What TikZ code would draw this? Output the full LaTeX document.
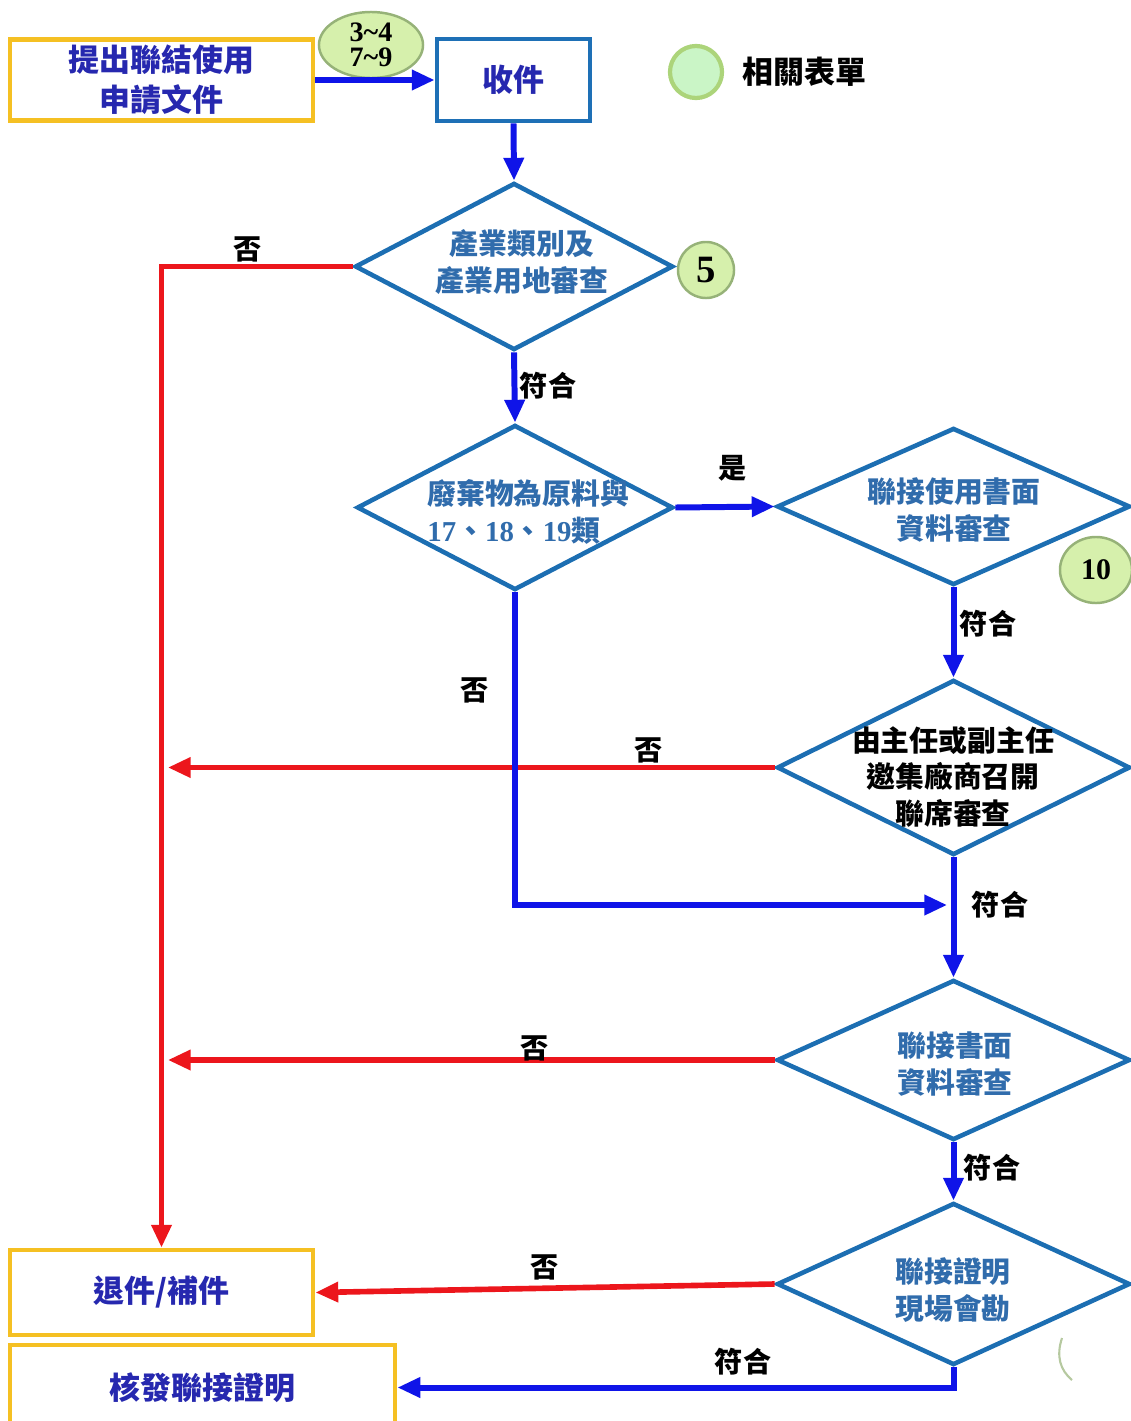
\documentclass[tikz,border=0pt]{standalone}
\usepackage{fontspec}
\setmainfont{Liberation Serif}
\newfontfamily\cjk{Noto Sans CJK TC}
\usetikzlibrary{shapes.geometric,arrows.meta}

\definecolor{boxyellow}{RGB}{245,192,35}
\definecolor{boxblue}{RGB}{30,112,182}
\definecolor{diablue}{RGB}{28,110,178}
\definecolor{diatext}{RGB}{48,108,172}
\definecolor{navytext}{RGB}{38,40,175}
\definecolor{arrowblue}{RGB}{15,20,232}
\definecolor{arrred}{RGB}{236,22,28}
\definecolor{formgreen}{RGB}{214,240,172}
\definecolor{formedge}{RGB}{150,178,120}
\definecolor{legendgreen}{RGB}{202,245,198}
\definecolor{legendedge}{RGB}{172,212,122}

\newcommand{\dg}[1]{{\rmfamily\bfseries #1}}

\begin{document}
\begin{tikzpicture}[x=0.01cm,y=-0.01cm,
	>={Triangle[length=6.5pt,width=5.5pt]},
	every node/.style={font=\cjk\bfseries},
	ybox/.style={draw=boxyellow,line width=1.3pt,fill=white,inner sep=0pt,
		text=navytext,align=center,font=\cjk\bfseries\fontsize{8.8}{11.4}\selectfont},
	dia/.style={diamond,draw=diablue,line width=1.3pt,inner sep=0pt,
		minimum width=3.53cm,minimum height=1.6cm},
	dtxt/.style={text=diatext,align=center,font=\cjk\bfseries\fontsize{8.2}{10.5}\selectfont},
	bl/.style={draw=arrowblue,line width=1.7pt},
	rl/.style={draw=arrred,line width=1.6pt},
	lbl/.style={font=\cjk\bfseries\fontsize{8}{10}\selectfont},
	form/.style={ellipse,draw=formedge,fill=formgreen,line width=0.7pt,inner sep=0pt}]
\useasboundingbox (0,0) rectangle (1131,1421);
\clip (0,0) rectangle (1131,1421);

% boxes
\node[ybox,minimum width=3.03cm,minimum height=0.81cm] (apply) at (161.5,80) {提出聯結使用\\申請文件};
\node[draw=boxblue,line width=1.3pt,inner sep=0pt,minimum width=1.53cm,minimum height=0.82cm,
	text=navytext,font=\cjk\bfseries\fontsize{8.8}{11}\selectfont] (recv) at (513.5,80) {收件};
\node[ybox,minimum width=3.03cm,minimum height=0.85cm] (rbox) at (161.5,1292.5) {退件/補件};
\node[ybox,minimum width=3.85cm,minimum height=0.85cm] (fbox) at (202.5,1387.5) {核發聯接證明};

% decisions
\node[dia,minimum width=3.18cm,minimum height=1.67cm] (d1) at (514,266.5) {};
\node[dia,minimum width=3.16cm,minimum height=1.65cm] (d2) at (515,507.5) {};
\node[dia,minimum height=1.57cm] (d3) at (953.5,506.5) {};
\node[dia,minimum height=1.75cm] (d4) at (953.5,767.5) {};
\node[dia] (d5) at (953.5,1060) {};
\node[dia,minimum height=1.62cm] (d6) at (953.5,1284) {};

\node[dtxt] (d1t) at (522,262) {產業類別及\\產業用地審查};
\node[dtxt,align=left,anchor=west] (d2t) at (415,512) {廢棄物為原料與\\\dg{17}、\dg{18}、\dg{19}類};
\node[dtxt] (d3t) at (954,510) {聯接使用書面\\資料審查};
\node[dtxt,text=black] (d4t) at (953,777) {由主任或副主任\\邀集廠商召開\\聯席審查};
\node[dtxt] (d5t) at (955,1064) {聯接書面\\資料審查};
\node[dtxt] (d6t) at (953,1290) {聯接證明\\現場會勘};

% forms
\node[form,minimum width=1.04cm,minimum height=0.66cm,align=center,
	font=\rmfamily\bfseries\fontsize{8}{7}\selectfont] (f1) at (371,45) {3\textasciitilde4\\7\textasciitilde9};
\node[form,minimum width=0.56cm,minimum height=0.56cm,
	font=\rmfamily\bfseries\fontsize{11}{12}\selectfont] (f5) at (706,270) {5};
\node[form,minimum width=0.72cm,minimum height=0.66cm,
	font=\rmfamily\bfseries\fontsize{8.5}{9}\selectfont] (f10) at (1096,570) {10};
\node[circle,draw=legendedge,fill=legendgreen,line width=1.2pt,minimum size=0.52cm] (leg) at (696,72) {};
\node[right,font=\cjk\bfseries\fontsize{8.8}{10}\selectfont] (legt) at (730,72) {相關表單};
\draw[formedge!70,line width=0.6pt] (1062,1338) .. controls (1056,1356) and (1060,1370) .. (1072,1380);

% red returns
\draw[rl,->] (d1.west) -| (rbox.north);
\draw[rl,->,shorten >=1.8pt] (d4.west) -- (d4.west -| rbox.north);
\draw[rl,->,shorten >=1.8pt] (d5.west) -- (d5.west -| rbox.north);
\draw[rl,->] (d6.west) -- (rbox.east);

% blue flow
\coordinate (mj) at (953.5,905);
\draw[bl,->] (apply.east) -- (recv.west);
\draw[bl,->] (recv.south) -- (d1.north);
\draw[bl,->] (d1.south) -- (d2.north);
\draw[bl,->] (d2.east) -- (d3.west);
\draw[bl,->] (d3.south) -- (d4.north);
\draw[bl,->,shorten >=1.8pt] (d2.south) |- (mj);
\draw[bl,->] (d4.south) -- (d5.north);
\draw[bl,->] (d5.south) -- (d6.north);
\draw[bl,->] (d6.south) |- (fbox.east);

% labels
\node[lbl] (l1) at (248,249) {否};
\node[lbl] (l2) at (548,386) {符合};
\node[lbl] (l3) at (733,468) {是};
\node[lbl] (l4) at (988,624) {符合};
\node[lbl] (l5) at (475,690) {否};
\node[lbl] (l6) at (649,750) {否};
\node[lbl] (l7) at (1000,905) {符合};
\node[lbl] (l8) at (535,1048) {否};
\node[lbl] (l9) at (992,1168) {符合};
\node[lbl] (l10) at (545,1267) {否};
\node[lbl] (l11) at (743,1362) {符合};
\end{tikzpicture}
\end{document}
